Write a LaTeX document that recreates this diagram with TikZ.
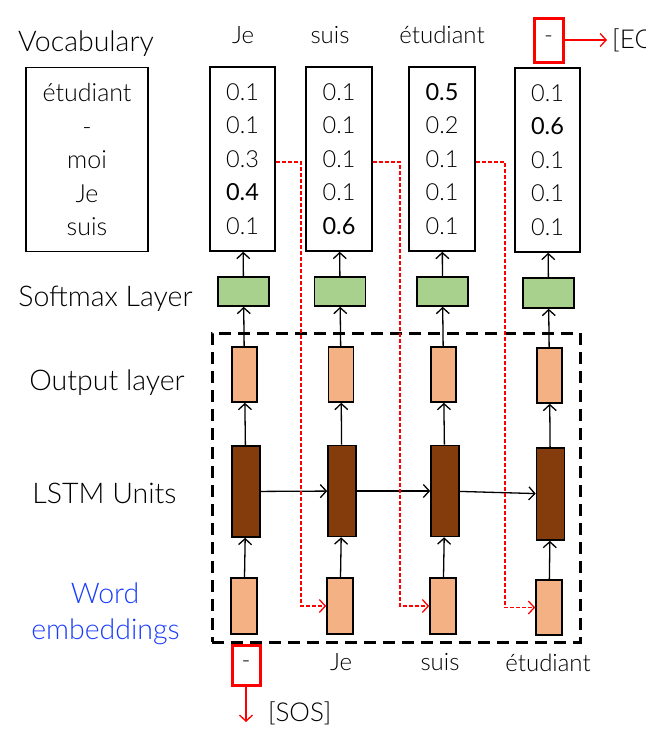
\documentclass[tikz,border=0pt]{standalone}
\usepackage{fontspec}
\setmainfont{Lato Light}
\newfontfamily\numbold{Lato}
\usetikzlibrary{arrows.meta}
\definecolor{smgreen}{HTML}{A9D18E}
\definecolor{outorange}{HTML}{F4B183}
\definecolor{lstmbrown}{HTML}{843C0C}
\definecolor{wordblue}{HTML}{1A3CFF}
\begin{document}
\begin{tikzpicture}[x=1pt,y=-1pt,
  txt/.style={font=\fontsize{24}{28}\selectfont, inner sep=0pt, anchor=base},
  lbl/.style={font=\fontsize{28.5}{32}\selectfont, inner sep=0pt, anchor=base},
  probbox/.style={draw, line width=1.6pt, minimum width=#1, minimum height=184pt, inner sep=0pt,
     align=center, font=\fontsize{23.5}{33.5}\selectfont},
  smbox/.style={draw, line width=1.6pt, fill=smgreen, minimum width=51pt, minimum height=29pt, inner sep=0pt},
  outbox/.style={draw, line width=1.6pt, fill=outorange, minimum width=25pt, minimum height=55pt, inner sep=0pt},
  lstmbox/.style={draw, line width=1.6pt, fill=lstmbrown, minimum width=28pt, minimum height=91pt, inner sep=0pt},
  embbox/.style={draw, line width=1.6pt, fill=outorange, minimum width=26pt, minimum height=56pt, inner sep=0pt},
  redbox/.style={draw=red, line width=3pt, inner sep=0pt},
  arr/.style={line width=1.3pt, -{Straight Barb[length=6pt,width=13pt,line width=1.3pt]}},
  redarr/.style={red, line width=1.3pt, -{Straight Barb[length=6pt,width=13pt,line width=1.3pt]}},
  reddash/.style={red, line width=1.3pt, dash pattern=on 4pt off 2pt, -{Straight Barb[length=6pt,width=13pt,line width=1.3pt]}},
]
\useasboundingbox (0,0) rectangle (646,740);

% left labels
\node[lbl] (lvoc) at (86,51) {Vocabulary};
\node[lbl] (lsm) at (105.5,306) {Softmax Layer};
\node[lbl] (lout) at (107,390) {Output layer};
\node[lbl] (llstm) at (104.5,503) {LSTM Units};
\node[lbl, text=wordblue] (lword) at (105,603) {Word};
\node[lbl, text=wordblue] (lemb) at (105.5,639) {embeddings};

% column headers
\node[txt] (h1) at (243,43) {Je};
\node[txt] (h2) at (330,43) {suis};
\node[txt] (h3) at (442,43) {étudiant};
\node[redbox, minimum width=29pt, minimum height=44pt, font=\fontsize{24}{28}\selectfont] (h4) at (548.5,40) {-};
\coordinate (eosend) at (607,40);
\draw[redarr] (h4.east) -- (eosend);
\node[txt, anchor=west, font=\fontsize{26}{30}\selectfont] (eos) at (612,40) {[EOS]};

% vocabulary and probability boxes
\node[probbox=122pt, font=\fontsize{25}{33.5}\selectfont] (voc) at (87,159.5) {étudiant\\-\\moi\\Je\\suis};
\node[probbox=65pt] (pb1) at (242.5,159) {0.1\\0.1\\0.3\\{\numbold 0.4}\\0.1};
\node[probbox=66pt] (pb2) at (339,159) {0.1\\0.1\\0.1\\0.1\\{\numbold 0.6}};
\node[probbox=66pt] (pb3) at (442,159) {{\numbold 0.5}\\0.2\\0.1\\0.1\\0.1};
\node[probbox=65pt] (pb4) at (547.5,160) {0.1\\{\numbold 0.6}\\0.1\\0.1\\0.1};

% softmax
\node[smbox] (sm1) at (243.5,291.5) {};
\node[smbox] (sm2) at (340,291.5) {};
\node[smbox] (sm3) at (442.5,291.5) {};
\node[smbox, minimum height=30pt] (sm4) at (548.5,293) {};

% output layer
\node[outbox] (o1) at (244.5,374.5) {};
\node[outbox] (o2) at (341,374.5) {};
\node[outbox] (o3) at (443.5,374.5) {};
\node[outbox] (o4) at (549.5,375.5) {};

% LSTM
\node[lstmbox] (l1) at (246,491.5) {};
\node[lstmbox] (l2) at (342,491) {};
\node[lstmbox] (l3) at (445,491) {};
\node[lstmbox, minimum height=92pt] (l4) at (550.5,494) {};

% embeddings
\node[embbox] (e1) at (244,606) {};
\node[embbox] (e2) at (340,606) {};
\node[embbox] (e3) at (443,606) {};
\node[embbox, minimum height=55pt] (e4) at (549,607.5) {};

% dashed frame
\node[draw, line width=3pt, dash pattern=on 12pt off 7pt, minimum width=368pt, minimum height=309pt, inner sep=0pt] (frame) at (396,487.5) {};

% vertical arrows
\foreach \i in {1,2,3,4}{
  \draw[arr] (e\i) -- (l\i);
  \draw[arr] (l\i) -- (o\i);
  \draw[arr] (o\i) -- (sm\i);
  \draw[arr] (sm\i) -- (pb\i);
}
% recurrent arrows
\draw[arr] (l1) -- (l2);
\draw[arr] (l2) -- (l3);
\draw[arr] (l3) -- (l4);

% red feedback
\coordinate (r1) at (301,162);
\coordinate (r2) at (400,162);
\coordinate (r3) at (505,162);
\draw[reddash] (pb1.east |- r1) -- (r1) |- (e2.west);
\draw[reddash] (pb2.east |- r2) -- (r2) |- (e3.west);
\draw[reddash] (pb3.east |- r3) -- (r3) |- (e4.west);

% bottom labels
\node[redbox, minimum width=28pt, minimum height=40pt, font=\fontsize{24}{28}\selectfont] (sos) at (246,665) {-};
\coordinate (sosend) at (246,722);
\draw[redarr] (sos.south) -- (sosend);
\node[txt, anchor=west, font=\fontsize{26}{30}\selectfont] (sost) at (268,713) {[SOS]};
\node[txt] (b2) at (341,670) {Je};
\node[txt] (b3) at (440,670) {suis};
\node[txt] (b4) at (548,671) {étudiant};
\end{tikzpicture}
\end{document}
